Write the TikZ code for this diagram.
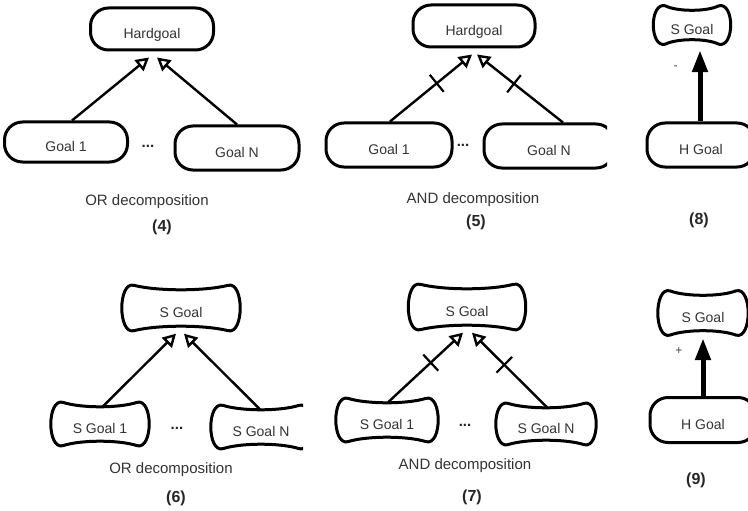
\documentclass[tikz,border=0pt]{standalone}
\usepackage{fontspec}
\setmainfont{Liberation Sans}
\usetikzlibrary{arrows.meta,calc,decorations.markings}
\newcommand\softoutline[1]{%
  \draw[outl] let \p1=(#1.north west), \p2=(#1.south east) in
   (\x1+11pt,\y1-1pt) .. controls (0.7*\x1+0.3*\x2,\y1-7pt) and (0.3*\x1+0.7*\x2,\y1-7pt) .. (\x2-11pt,\y1-1pt)
   .. controls (\x2+5pt,\y1+3pt) and (\x2+5pt,\y2-3pt) .. (\x2-11pt,\y2+1pt)
   .. controls (0.3*\x1+0.7*\x2,\y2+7pt) and (0.7*\x1+0.3*\x2,\y2+7pt) .. (\x1+11pt,\y2+1pt)
   .. controls (\x1-5pt,\y2-3pt) and (\x1-5pt,\y1+3pt) .. cycle;}
\begin{document}
\begin{tikzpicture}[x=1pt,y=-1pt,
  goaltxt/.style={font=\fontsize{14}{16}\selectfont, text=black!80, text height=19pt, text depth=0pt, inner sep=0pt},
  hard/.style={goaltxt, rectangle, draw=black, line width=3pt, rounded corners=18pt},
  soft/.style={goaltxt, rectangle, draw=none},
  outl/.style={draw=black, line width=3pt, line join=round},
  dotsl/.style={font=\fontsize{15}{17}\selectfont\bfseries, text=black!85, inner sep=0pt},
  caption/.style={font=\fontsize{15}{17}\selectfont, text=black!80, inner sep=0pt},
  num/.style={font=\fontsize{16}{18}\selectfont\bfseries, text=black!85, inner sep=0pt},
  sign/.style={font=\fontsize{12}{14}\selectfont, text=black!75, inner sep=0pt},
  orarrow/.style={line width=2.4pt, -{Triangle[open, length=13pt, width=14pt, fill=white]}},
  andtick/.style={postaction={decorate}, decoration={markings, mark=at position 0.57 with {\draw[line width=2.2pt, -] (0,-11pt) -- (0,11pt);}}},
  thickarrow/.style={line width=5pt, -{Triangle[length=22pt, width=15pt]}}]
\useasboundingbox (0,0) rectangle (748,511);

% ---------- (4) OR decomposition of a hardgoal
\node[hard, minimum width=123pt, minimum height=42pt] (hg4) at (152,29) {Hardgoal};
\node[hard, minimum width=123pt, minimum height=40pt] (g41) at (66,142) {Goal 1};
\node[hard, minimum width=124pt, minimum height=44pt] (g4N) at (237,148) {Goal N};
\node[dotsl] (d4) at (148,146) {...};
\draw[orarrow] ([xshift=6pt]g41.north) -- ([xshift=-3pt,yshift=-6pt]hg4.south);
\draw[orarrow] (g4N.north) -- ([xshift=5pt,yshift=-6pt]hg4.south);
\node[caption] (c4) at (147,202) {OR decomposition};
\node[num] (n4) at (162,227) {(4)};

% ---------- (5) AND decomposition of a hardgoal
\node[hard, minimum width=122pt, minimum height=42pt] (hg5) at (474,26) {Hardgoal};
\node[hard, minimum width=126pt, minimum height=44pt] (g51) at (389,145) {Goal 1};
\begin{scope}
  \clip (470,100) rectangle (607,190);
  \node[hard, minimum width=130pt, minimum height=44pt] (g5N) at (549,146) {Goal N};
\end{scope}
\node[dotsl] (d5) at (463,145) {...};
\draw[orarrow, andtick] ([xshift=1pt]g51.north) -- ([xshift=-2pt,yshift=-6pt]hg5.south);
\draw[orarrow, andtick] ([xshift=14pt]g5N.north) -- ([xshift=3pt,yshift=-6pt]hg5.south);
\node[caption] (c5) at (473,200) {AND decomposition};
\node[num] (n5) at (476,222) {(5)};

% ---------- (8) hardgoal hurts softgoal
\node[soft, minimum width=75pt, minimum height=40pt] (sg8) at (692,25) {S Goal};
\softoutline{sg8}
\begin{scope}
  \clip (620,100) rectangle (748,190);
  \node[hard, minimum width=108pt, minimum height=44pt] (hg8) at (701,145) {H Goal};
\end{scope}
\draw[thickarrow] ([xshift=-1pt]hg8.north) -- node[sign, pos=0.75, left=20pt] (m8) {-} ([xshift=8pt,yshift=-5pt]sg8.south);
\node[num] (n8) at (699,220) {(8)};

% ---------- (6) OR decomposition of a softgoal
\node[soft, minimum width=116pt, minimum height=47pt] (sg6) at (181,308) {S Goal};
\softoutline{sg6}
\node[soft, minimum width=96pt, minimum height=45pt] (sg61) at (100,424) {S Goal 1};
\softoutline{sg61}
\begin{scope}
  \clip (200,380) rectangle (303,470);
  \node[soft, minimum width=98pt, minimum height=45pt] (sg6N) at (261,427) {S Goal N};
  \softoutline{sg6N}
\end{scope}
\node[dotsl] (d6) at (177,428) {...};
\draw[orarrow] ([xshift=3pt,yshift=-5pt]sg61.north) -- ([xshift=-5pt,yshift=-2pt]sg6.south);
\draw[orarrow] ([xshift=-1pt,yshift=-5pt]sg6N.north) -- ([xshift=3pt,yshift=-2pt]sg6.south);
\node[caption] (c6) at (171,470) {OR decomposition};
\node[num] (n6) at (176,498) {(6)};

% ---------- (7) AND decomposition of a softgoal
\node[soft, minimum width=115pt, minimum height=47pt] (sg7) at (467,307) {S Goal};
\softoutline{sg7}
\node[soft, minimum width=100pt, minimum height=45pt] (sg71) at (387,420) {S Goal 1};
\softoutline{sg71}
\node[soft, minimum width=98pt, minimum height=43pt] (sg7N) at (546,424) {S Goal N};
\softoutline{sg7N}
\node[dotsl] (d7) at (465,425) {...};
\draw[orarrow, andtick] ([xshift=1pt,yshift=-5pt]sg71.north) -- ([xshift=-4pt,yshift=-2pt]sg7.south);
\draw[orarrow, andtick] ([xshift=1pt,yshift=-5pt]sg7N.north) -- ([xshift=5pt,yshift=-2pt]sg7.south);
\node[caption] (c7) at (465,466) {AND decomposition};
\node[num] (n7) at (472,497) {(7)};

% ---------- (9) hardgoal helps softgoal
\node[soft, minimum width=88pt, minimum height=46pt] (sg9) at (703,313) {S Goal};
\softoutline{sg9}
\begin{scope}
  \clip (620,380) rectangle (748,470);
  \node[hard, minimum width=106pt, minimum height=45pt] (hg9) at (703,420) {H Goal};
\end{scope}
\draw[thickarrow] (hg9.north) -- node[sign, pos=0.77, left=18pt] (m9) {+} ([yshift=-2pt]sg9.south);
\node[num] (n9) at (696,480) {(9)};
\end{tikzpicture}
\end{document}
